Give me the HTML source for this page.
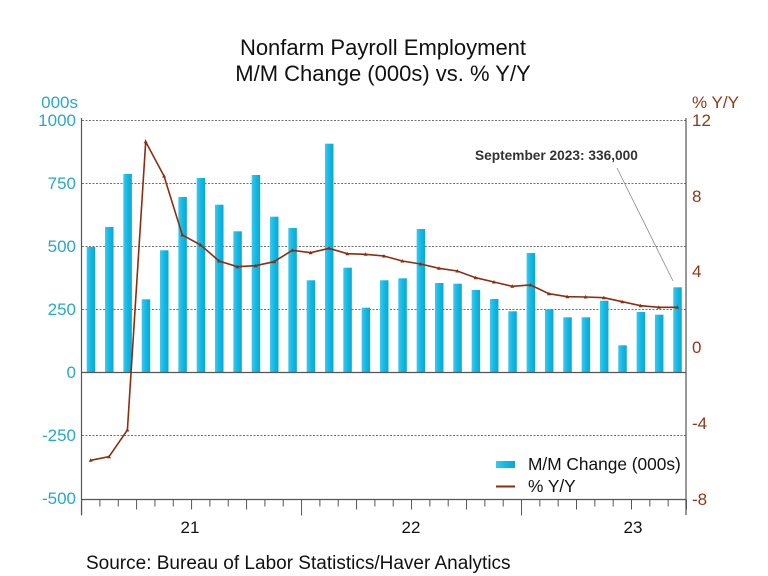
<!DOCTYPE html>
<html><head><meta charset="utf-8"><style>
html,body{margin:0;padding:0;background:#fff}
svg{display:block;font-family:"Liberation Sans",Arial,sans-serif}
</style></head><body>
<svg width="768" height="576" viewBox="0 0 768 576" xmlns="http://www.w3.org/2000/svg">
<defs>
<linearGradient id="bg" x1="0" x2="1" y1="0" y2="0">
<stop offset="0" stop-color="#3cc9ee"/><stop offset="0.5" stop-color="#12b8e4"/><stop offset="1" stop-color="#0ea6d2"/>
</linearGradient>
</defs>
<text x="383" y="55" font-size="22" text-anchor="middle" fill="#111">Nonfarm Payroll Employment</text>
<text x="383" y="81" font-size="22" text-anchor="middle" fill="#111">M/M Change (000s) vs. % Y/Y</text>
<text x="78" y="108" font-size="17" text-anchor="end" fill="#2aa8c4">000s</text>
<text x="692" y="108" font-size="17" fill="#8b3a1a">% Y/Y</text>
<g stroke="#444" stroke-width="0.8" stroke-dasharray="2,1.5">
<line x1="82" x2="686" y1="120.5" y2="120.5"/>
<line x1="82" x2="686" y1="183.5" y2="183.5"/>
<line x1="82" x2="686" y1="246.5" y2="246.5"/>
<line x1="82" x2="686" y1="309.5" y2="309.5"/>
<line x1="82" x2="686" y1="435.5" y2="435.5"/>
</g>
<g font-size="17" fill="#2aa8c4" text-anchor="end">
<text x="76" y="126">1000</text><text x="76" y="189">750</text><text x="76" y="252">500</text>
<text x="76" y="315">250</text><text x="76" y="378">0</text><text x="76" y="441">-250</text><text x="76" y="504">-500</text>
</g>
<g font-size="17" fill="#8b3a1a">
<text x="692" y="126">12</text><text x="692" y="202">8</text><text x="692" y="277">4</text>
<text x="692" y="353">0</text><text x="692" y="429">-4</text><text x="692" y="505">-8</text>
</g>
<g fill="url(#bg)" id="bars"></g>
<line x1="81.5" x2="81.5" y1="118" y2="515" stroke="#555" stroke-width="1.2"/>
<line x1="686" x2="686" y1="118" y2="515" stroke="#555" stroke-width="1.2"/>
<line x1="81" x2="686" y1="372.5" y2="372.5" stroke="#555" stroke-width="1.2"/>
<line x1="81" x2="686" y1="499.5" y2="499.5" stroke="#555" stroke-width="1.2"/>
<g id="ticks" stroke="#555" stroke-width="1"></g>
<polyline id="ln" fill="none" stroke="#8b2e10" stroke-width="1.6"/>
<g id="mk" fill="#8b2e10"></g>
<g font-size="17" fill="#111" text-anchor="middle">
<text x="190" y="533">21</text><text x="411" y="533">22</text><text x="633" y="533">23</text>
</g>
<text x="86" y="569" font-size="19" fill="#111">Source:  Bureau of Labor Statistics/Haver Analytics</text>
<text x="475" y="160" font-size="13.7" font-weight="bold" fill="#333">September 2023: 336,000</text>
<line x1="617" y1="168" x2="673" y2="281" stroke="#888" stroke-width="0.8"/>
<rect x="496" y="461" width="19" height="7" fill="url(#bg)"/>
<text x="528" y="470" font-size="17.3" fill="#111">M/M Change (000s)</text>
<line x1="496" x2="515" y1="486.5" y2="486.5" stroke="#8b2e10" stroke-width="2"/>
<text x="528" y="492" font-size="17.3" fill="#111">% Y/Y</text>
<script>
var tops=[247,227,174,299.3,250.3,197,178,204.7,231.3,175,216.7,228,280.3,143.7,267.7,307.7,280.3,278.3,229,283,283.7,290,299,311.3,253,309.3,317.3,317.3,300.7,345.3,312,314.7,287.3];
var ly=[460.3,456.7,430,141.7,176,235,245,261,266.7,265.7,261.7,250.3,252.7,248.3,253.7,254.3,256,261,264,268.3,271,277.7,282,286.3,285,293.7,296.7,297,297.7,301.7,305.7,307.3,307.3];
var ns="http://www.w3.org/2000/svg",b=document.getElementById("bars"),m=document.getElementById("mk"),pts=[];
for(var i=0;i<33;i++){var x=90.7+i*18.33;
var r=document.createElementNS(ns,"rect");r.setAttribute("x",x-4);r.setAttribute("y",tops[i]);r.setAttribute("width",8.5);r.setAttribute("height",372.5-tops[i]);b.appendChild(r);
pts.push(x.toFixed(1)+","+ly[i]);
var p=document.createElementNS(ns,"path");p.setAttribute("d","M"+(x-2)+","+(ly[i]+1.5)+"L"+(x+2)+","+(ly[i]+1.5)+"L"+x+","+(ly[i]-2)+"Z");m.appendChild(p);}
document.getElementById("ln").setAttribute("points",pts.join(" "));
var t=document.getElementById("ticks");
for(var k=0;k<=33;k++){var x=81.6+k*18.33;var len=(k%12==0)?16:(k%3==0?10:7);
var l=document.createElementNS(ns,"line");l.setAttribute("x1",x);l.setAttribute("x2",x);l.setAttribute("y1",499.5);l.setAttribute("y2",499.5+len);t.appendChild(l);}
</script>
</svg>
</body></html>
